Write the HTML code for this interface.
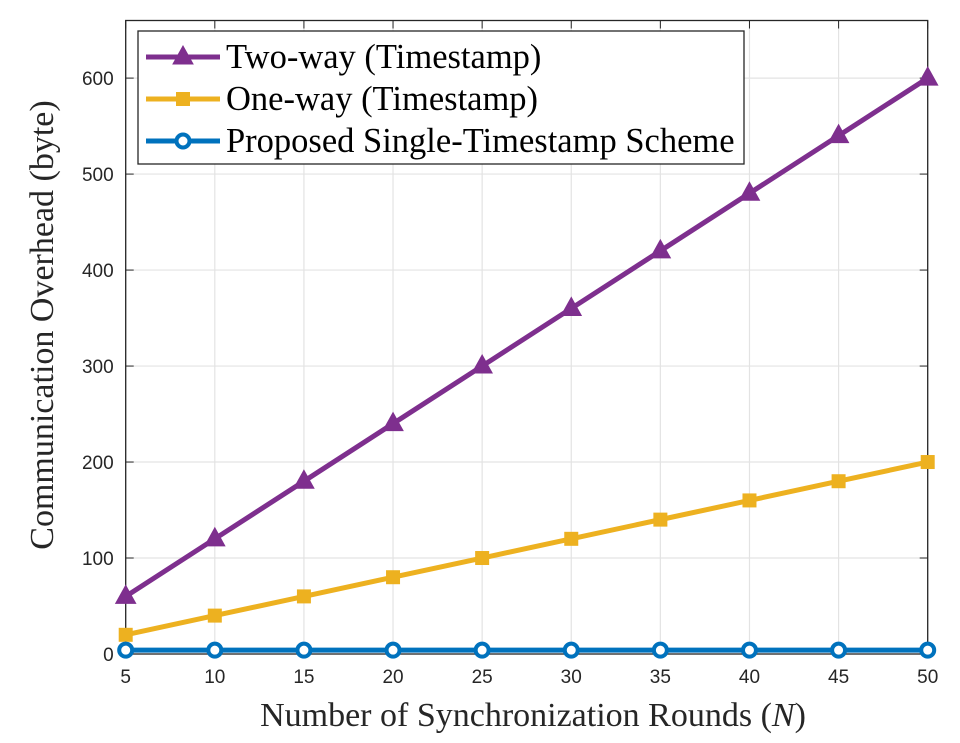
<!DOCTYPE html>
<html><head><meta charset="utf-8"><style>
body{margin:0;background:#fff}
svg{display:block}
.tick{font-family:"Liberation Sans",sans-serif;font-size:19px;fill:#262626}
.lab{font-family:"Liberation Serif",serif;font-size:34px;fill:#262626}
.leg{font-family:"Liberation Serif",serif;font-size:34.5px;fill:#000}
</style></head><body>
<svg id="chart" width="960" height="743"></svg>
<script>
const xVals=[5,10,15,20,25,30,35,40,45,50];
const twoWay=[60,120,180,240,300,360,420,480,540,600];
const oneWay=[20,40,60,80,100,120,140,160,180,200];
const proposed=[4,4,4,4,4,4,4,4,4,4];
const yTicks=[0,100,200,300,400,500,600];
const xTicks=[5,10,15,20,25,30,35,40,45,50];
const L=125.7,R=927.7,T=20.5,B=654;
const xs=v=>L+(v-5)/45*(R-L);
const ys=v=>B-v/660*(B-T);
const svg=document.getElementById('chart');
const NS='http://www.w3.org/2000/svg';
function mk(t,a,p){const e=document.createElementNS(NS,t);for(const k in a)e.setAttribute(k,a[k]);(p||svg).appendChild(e);return e;}
let g=mk('g',{});


xTicks.forEach(v=>mk('line',{x1:xs(v),x2:xs(v),y1:T,y2:B,stroke:'#e3e3e3','stroke-width':1.2},g));
yTicks.forEach(v=>mk('line',{x1:L,x2:R,y1:ys(v),y2:ys(v),stroke:'#e3e3e3','stroke-width':1.2},g));
let ax=mk('rect',{x:L,y:T,width:R-L,height:B-T,fill:'none',stroke:'#262626','stroke-width':1.3});


xTicks.forEach(v=>{mk('line',{x1:xs(v),x2:xs(v),y1:B,y2:B-8,stroke:'#262626'});mk('line',{x1:xs(v),x2:xs(v),y1:T,y2:T+8,stroke:'#262626'});
const t=mk('text',{x:xs(v),y:B+29,'text-anchor':'middle',class:'tick'});t.textContent=v;

});
yTicks.forEach(v=>{mk('line',{x1:L,x2:L+8,y1:ys(v),y2:ys(v),stroke:'#262626'});mk('line',{x1:R,x2:R-8,y1:ys(v),y2:ys(v),stroke:'#262626'});
const t=mk('text',{x:L-12,y:ys(v)+7,'text-anchor':'end',class:'tick'});t.textContent=v;

});
function marker(type,x,y,c,p){
 if(type==='tri')mk('polygon',{points:`${x},${y-11} ${x-10},${y+7} ${x+10},${y+7}`,fill:c,stroke:c,'stroke-width':1},p);
 else if(type==='sq')mk('rect',{x:x-7,y:y-7,width:14,height:14,fill:c},p);
 else mk('circle',{cx:x,cy:y,r:6.5,fill:'#fff',stroke:c,'stroke-width':4},p);
}
function series(vals,c,type,name){
 const sg=mk('g',{});
 
 
 mk('polyline',{points:vals.map((v,i)=>xs(xVals[i])+','+ys(v)).join(' '),fill:'none',stroke:c,'stroke-width':5},sg);
 vals.forEach((v,i)=>marker(type,xs(xVals[i]),ys(v),c,sg));
}
series(twoWay,'#7e2f8e','tri','two-way-series');
series(oneWay,'#edb120','sq','one-way-series');
series(proposed,'#0072bd','circ','proposed-series');
const lg=mk('g',{});


mk('rect',{x:138,y:31,width:606,height:133,fill:'#fff',stroke:'#262626','stroke-width':1.3},lg);
[['Two-way (Timestamp)','#7e2f8e','tri'],['One-way (Timestamp)','#edb120','sq'],['Proposed Single-Timestamp Scheme','#0072bd','circ']].forEach((d,i)=>{
 const y=57+i*42;
 const e=mk('g',{},lg);
 
 
 mk('line',{x1:146,x2:220,y1:y,y2:y,stroke:d[1],'stroke-width':5},e);
 marker(d[2],183,y,d[1],e);
 const t=mk('text',{x:226,y:y+11,class:'leg'},e);t.textContent=d[0];
});
const xl=mk('text',{x:533,y:726,'text-anchor':'middle',class:'lab'});
xl.innerHTML='Number of Synchronization Rounds (<tspan font-style="italic">N</tspan>)';


const yl=mk('text',{x:0,y:0,'text-anchor':'middle',class:'lab','font-size':'32',transform:`translate(53,325) rotate(-90)`});
yl.textContent='Communication Overhead (byte)';


</script>
</body></html>
